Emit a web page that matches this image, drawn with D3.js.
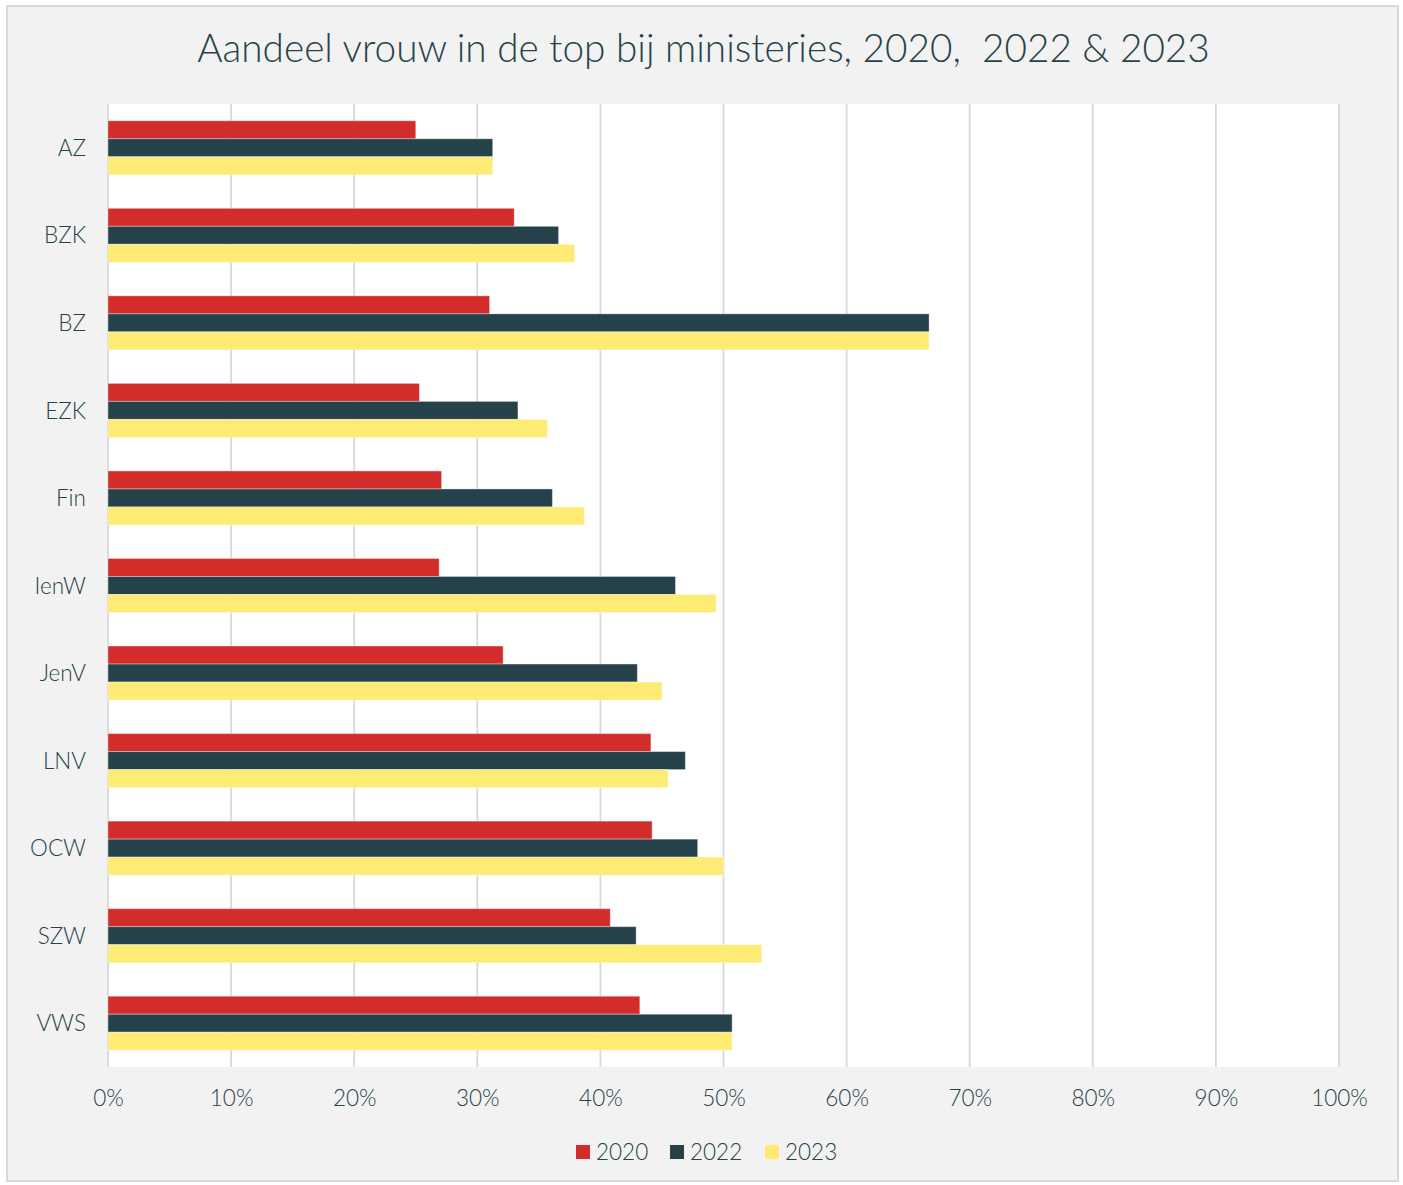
<!DOCTYPE html>
<html><head><meta charset="utf-8">
<script src="https://cdn.jsdelivr.net/npm/d3@7"></script>
<style>
html,body{margin:0;padding:0;background:#fff;}
svg{display:block;font-family:Lato, "Noto Sans", sans-serif;font-weight:300;}
</style></head>
<body><svg id="c" width="1403" height="1185"></svg>
<script>
const categories = ["AZ","BZK","BZ","EZK","Fin","IenW","JenV","LNV","OCW","SZW","VWS"];
const seriesNames = ["2020","2022","2023"];
const values2020 = [25.0,33.0,31.0,25.3,27.1,26.9,32.1,44.1,44.2,40.8,43.2];
const values2022 = [31.25,36.6,66.7,33.3,36.1,46.1,43.0,46.9,47.9,42.9,50.7];
const values2023 = [31.25,37.9,66.7,35.7,38.7,49.4,45.0,45.5,50.0,53.1,50.7];
const xTicks = [0,10,20,30,40,50,60,70,80,90,100];
const colors = ["#d22d2b","#25424a","#fdeb74"];
const title = "Aandeel vrouw in de top bij ministeries, 2020,\u00a0 2022 & 2023";

const seriesValues = [values2020, values2022, values2023];
const textColor = "#264348";
const fontFam = "Lato, 'Noto Sans', sans-serif";
const svg = d3.select("#c");

// frame
svg.append("rect").attr("x",7).attr("y",6).attr("width",1391).attr("height",1175)
  .attr("fill","#f2f2f2").attr("stroke","#d9d9d9").attr("stroke-width",2);

const m = {left:108, right:1339, top:104, bottom:1067};
const x = d3.scaleLinear().domain([0,100]).range([m.left, m.right]);
const y = d3.scaleBand().domain(categories).range([m.top, m.bottom]).paddingInner(0.383).paddingOuter(0.1915);
const ys = d3.scaleBand().domain(seriesNames).range([0, y.bandwidth()]);

// plot area
svg.append("rect").attr("x",m.left).attr("y",m.top).attr("width",m.right-m.left).attr("height",m.bottom-m.top).attr("fill","#fff");

// grid
svg.append("g").selectAll("line").data(xTicks).join("line")
  .attr("x1",d=>x(d)).attr("x2",d=>x(d)).attr("y1",m.top).attr("y2",m.bottom)
  .attr("stroke","#d9d9d9").attr("stroke-width",1.8);

// bars
const rows = categories.map((c,i)=>({cat:c, vals:seriesNames.map((s,j)=>({s, v:seriesValues[j][i], j}))}));
const g = svg.append("g");
g.selectAll("g").data(rows).join("g")
  .attr("transform",d=>`translate(0,${y(d.cat)})`)
  .selectAll("rect").data(d=>d.vals).join("rect")
  .attr("x",x(0)).attr("y",d=>ys(d.s)).attr("height",ys.bandwidth())
  .attr("width",d=>x(d.v)-x(0)).attr("fill",d=>colors[d.j])
  .attr("stroke","#ffffff").attr("stroke-opacity",0.35).attr("stroke-width",1);

// x axis labels
const xAxis = d3.axisBottom(x).tickValues(xTicks).tickFormat(d=>d+"%").tickSize(0).tickPadding(0);
const xg = svg.append("g").attr("transform",`translate(0,${1106})`).call(xAxis);
xg.select(".domain").remove();
xg.selectAll("text").attr("dy",0).attr("font-size",22.5).attr("fill",textColor)
  .attr("font-family",fontFam).attr("font-weight",300);

// y axis labels
const yAxis = d3.axisLeft(y).tickSize(0).tickPadding(0);
const yg = svg.append("g").attr("transform",`translate(86,0)`).call(yAxis);
yg.select(".domain").remove();
yg.selectAll("text").attr("dy","0.36em").attr("font-size",22.5).attr("fill",textColor)
  .attr("font-family",fontFam).attr("font-weight",300);

// title
const t = svg.append("text").attr("x",703.5).attr("y",62).attr("text-anchor","middle")
  .attr("font-size",37).attr("font-weight",300).attr("fill",textColor).text(title);
const tw = t.node().getComputedTextLength();
t.attr("font-size", 37*1013/tw);

// legend
const legX = [576,670,765];
const lg = svg.append("g");
seriesNames.forEach((s,i)=>{
  lg.append("rect").attr("x",legX[i]).attr("y",1145).attr("width",14).attr("height",14).attr("fill",colors[i]);
  lg.append("text").attr("x",legX[i]+20).attr("y",1160).attr("font-size",22.5).attr("font-weight",300).attr("fill",textColor).text(s);
});
</script></body></html>
